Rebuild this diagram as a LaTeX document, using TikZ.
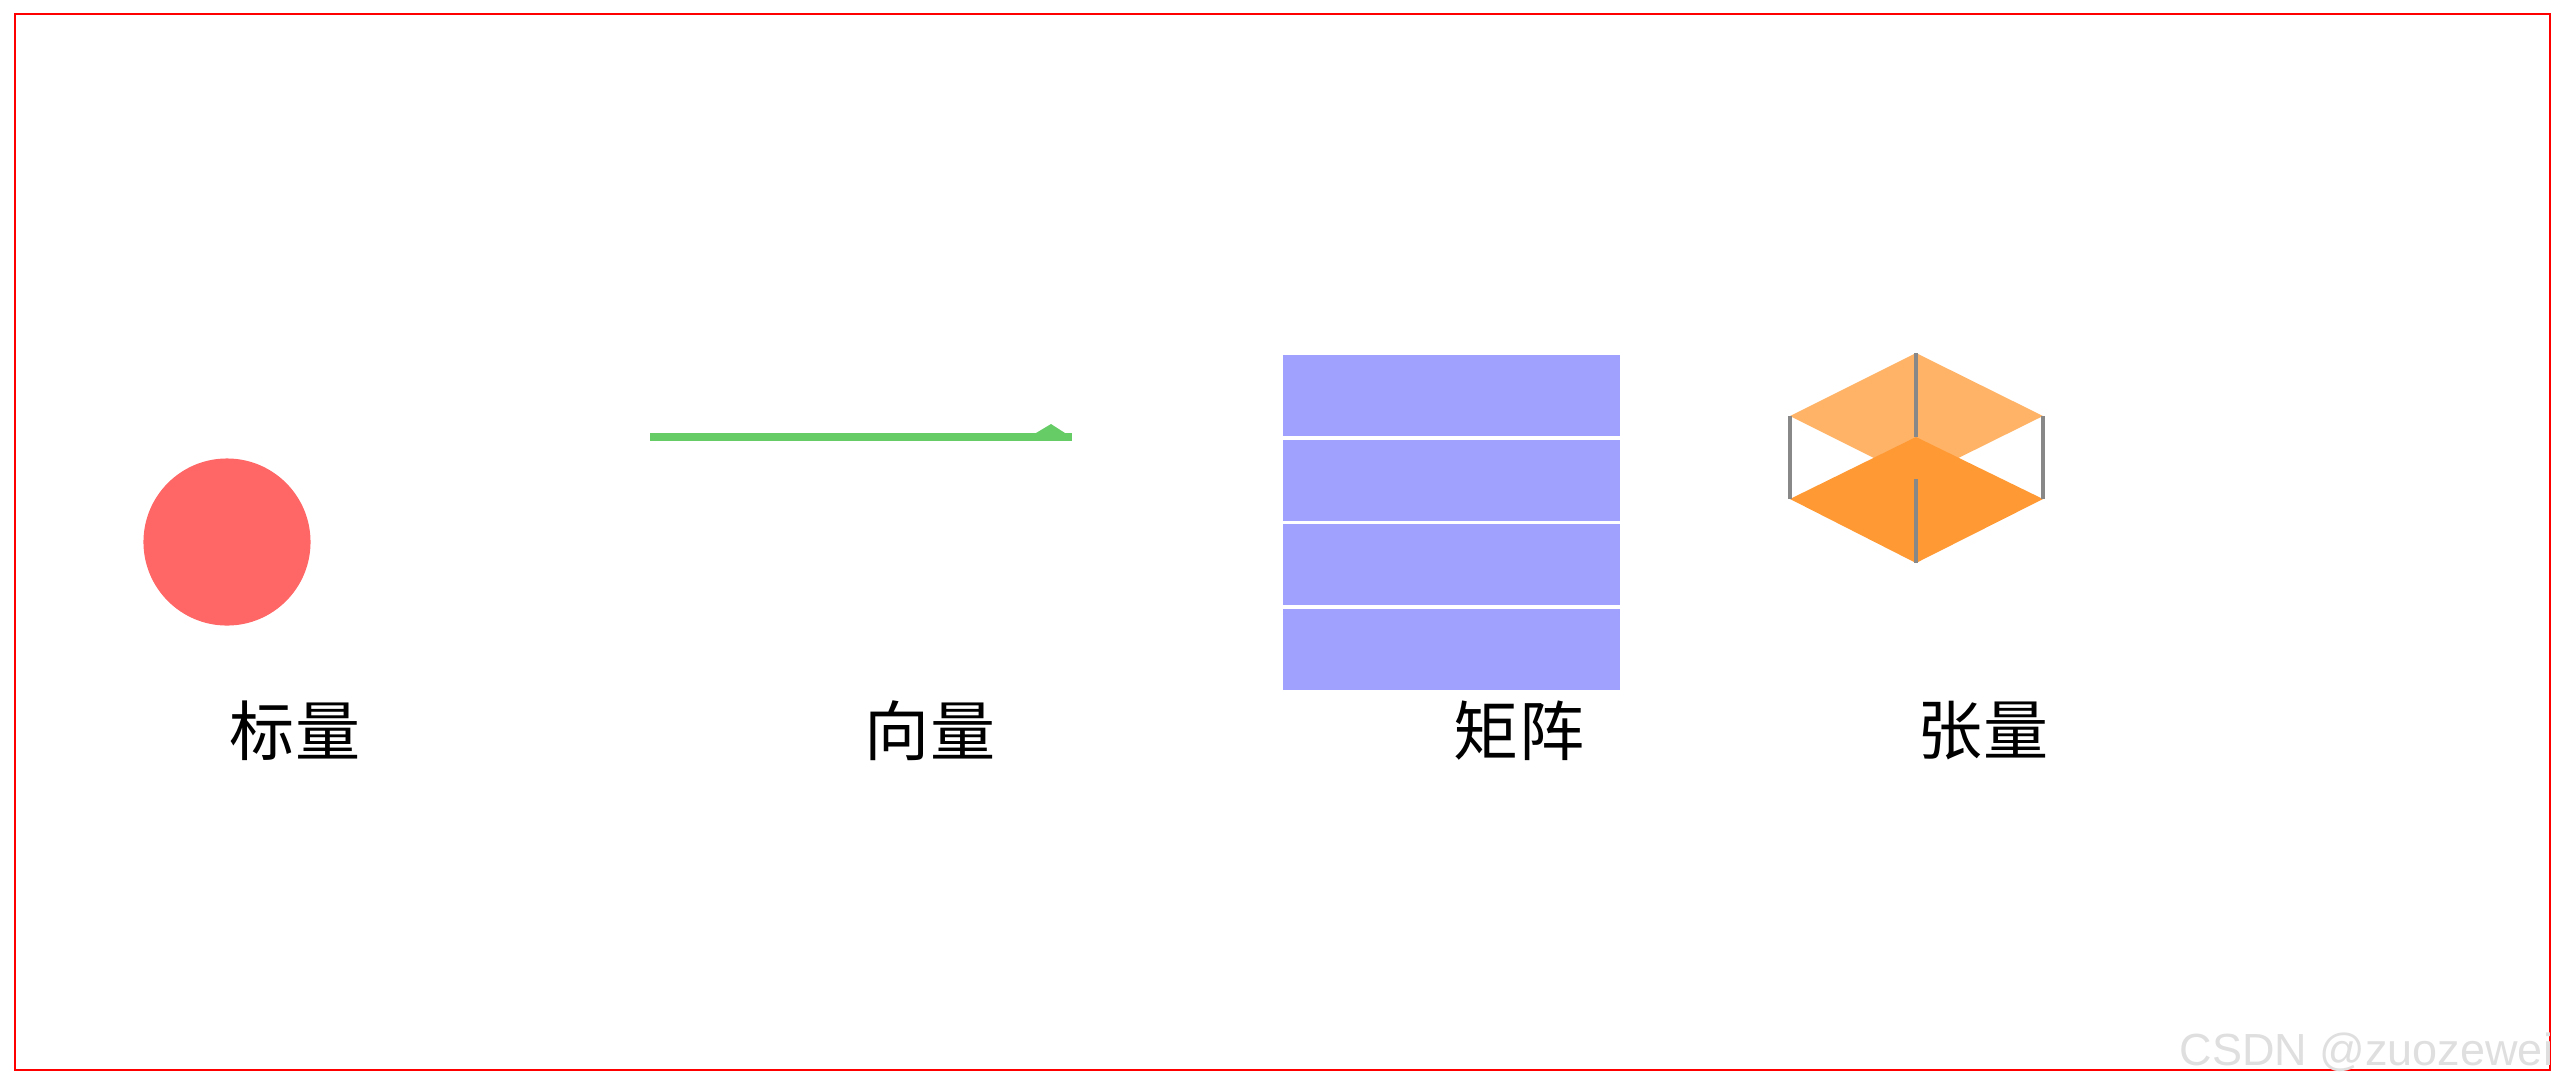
\documentclass[tikz,border=0pt]{standalone}
\usepackage{fontspec}
\newfontfamily\cjk{Noto Sans CJK SC}
\setsansfont{Liberation Sans}
\usetikzlibrary{positioning}
\definecolor{scalarred}{RGB}{255,102,102}
\definecolor{vecgreen}{RGB}{102,204,102}
\definecolor{matblue}{RGB}{160,160,255}
\definecolor{tenlight}{RGB}{255,179,102}
\definecolor{tendark}{RGB}{255,153,51}
\definecolor{edgegray}{RGB}{136,136,136}

\begin{document}
\begin{tikzpicture}[x=0.01cm, y=-0.01cm, every node/.style={align=center},
    lbl/.style={font=\cjk\fontsize{18.5}{20}\selectfont, inner sep=0pt},
    tedge/.style={edgegray, line width=0.9pt}]
    \useasboundingbox (0,0) rectangle (2568,1090);
    \draw[red, line width=0.7pt] (15,14) rectangle (2550,1070);

    % scalar
    \node[circle, fill=scalarred, minimum size=1.67cm, inner sep=0pt] (scalar) at (227,542) {};
    \node[lbl] (lscalar) at (295,731) {标量};

    % vector
    \fill[vecgreen] (650,433) rectangle (1072,441);
    \fill[vecgreen] (1036,433) -- (1051,424) -- (1065,433) -- cycle;
    \node[lbl] (lvector) at (930,731) {向量};

    % matrix
    \foreach \i in {0,...,3}
        \fill[matblue] (1283,{355+84.5*\i}) rectangle (1620,{436+84.5*\i});
    \node[lbl] (lmatrix) at (1519,731) {矩阵};

    % tensor
    \coordinate (bk) at (1916,353);
    \coordinate (lt) at (1790,416);
    \coordinate (rt) at (2043,416);
    \coordinate (ft) at (1916,479);
    \coordinate (bb) at (1916,437);
    \coordinate (lb) at (1790,499);
    \coordinate (rb) at (2043,499);
    \coordinate (fb) at (1916,563);
    \fill[tenlight] (bk) -- (rt) -- (ft) -- (lt) -- cycle;
    \draw[tedge] (bk) -- (bb);
    \fill[tendark] (bb) -- (rb) -- (fb) -- (lb) -- cycle;
    \draw[tedge] (lt) -- (lb);
    \draw[tedge] (rt) -- (rb);
    \draw[tedge] (ft) -- (fb);
    \node[lbl] (ltensor) at (1983,731) {张量};

    \node[anchor=base west, font=\sffamily\fontsize{12.8}{15}\selectfont, text=gray!25, inner sep=0pt] (mark) at (2179,1065) {CSDN @zuozewei};
\end{tikzpicture}
\end{document}
